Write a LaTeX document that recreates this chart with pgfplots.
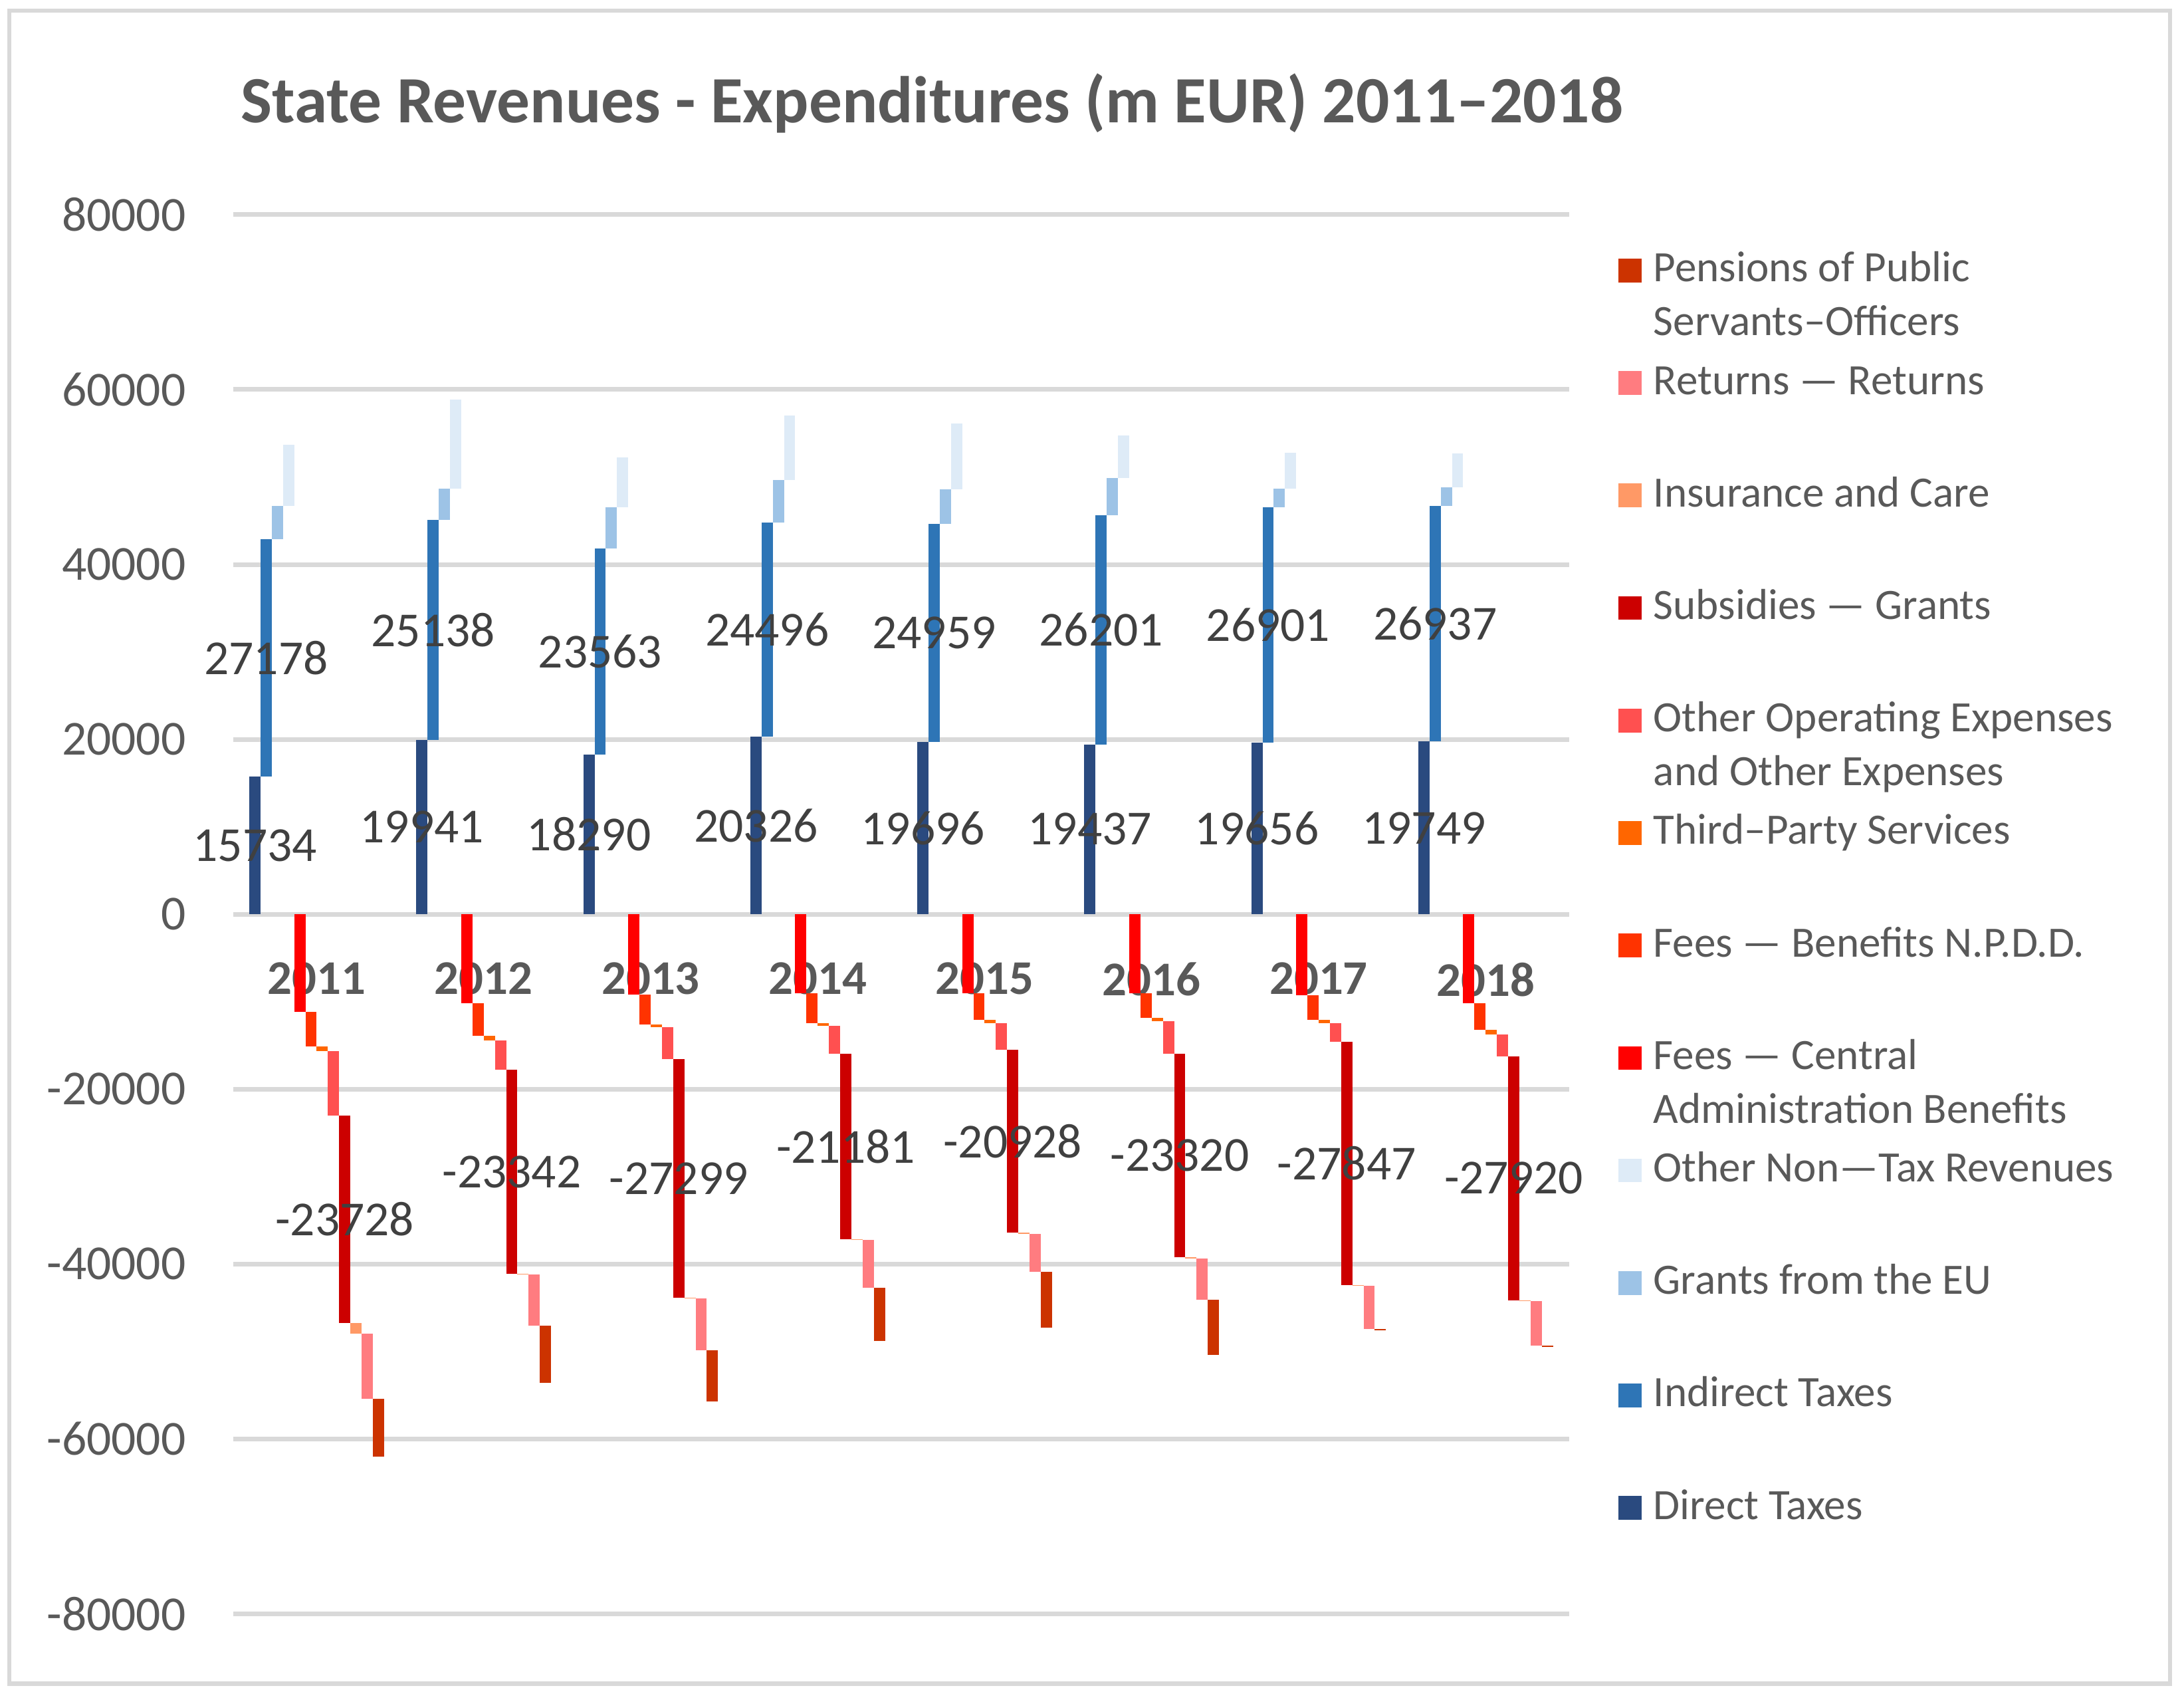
\documentclass[border=0pt]{standalone}
\usepackage{pgfplots}
\pgfplotsset{compat=1.18}
\usepackage{pgfplotstable}
\usepackage{fontspec}
\setmainfont{Carlito}
\definecolor{cDT}{HTML}{2A4A7F}
\definecolor{cIT}{HTML}{2E75B6}
\definecolor{cEU}{HTML}{9DC3E6}
\definecolor{cON}{HTML}{DEEBF7}
\definecolor{cFC}{HTML}{FF0000}
\definecolor{cFN}{HTML}{FF3300}
\definecolor{cTP}{HTML}{FF6600}
\definecolor{cOE}{HTML}{FF5050}
\definecolor{cSG}{HTML}{CC0000}
\definecolor{cIC}{HTML}{FF9966}
\definecolor{cRR}{HTML}{FF7C80}
\definecolor{cPP}{HTML}{CC3300}
\definecolor{cgrid}{HTML}{D9D9D9}
\definecolor{ctxt}{HTML}{595959}
\definecolor{clab}{HTML}{404040}

\pgfplotstableread{
x D I G O FC FN TP OE SG IC RR PP
0 15734 27178 3780 6970 11140 3970 520 7380 23728 1250 7420 6640
1 19941 25138 3620 10150 10170 3720 520 3360 23342 100 5860 6550
2 18290 23563 4690 5690 9170 3410 350 3610 27299 100 5890 5860
3 20326 24496 4810 7400 9010 3420 350 3180 21181 100 5480 6100
4 19696 24959 3970 7470 9010 3070 350 3070 20928 100 4360 6410
5 19437 26201 4220 4880 9010 2830 390 3690 23320 100 4780 6290
6 19656 26901 2140 4110 9240 2840 350 2130 27847 100 4910 150
7 19749 26937 2170 3870 10170 3030 550 2480 27920 100 5110 150
}\data

\newcommand{\bw}{2.41pt}
% #1 colour, #2 position in group, #3 base, #4 value
\newcommand{\barplot}[4]{%
\addplot[draw=none, mark=none,
  legend image code/.code={\fill[#1] (0pt,4.95pt) rectangle (5.1pt,10.05pt);},
  error bars/.cd, y dir=plus, y explicit, error mark=none,
  error bar style={draw=#1, line width=\bw, line cap=butt, solid}]
  table[x expr=\thisrow{x}+(#2-5.5)*0.0672, y expr=#3, y error expr=#4] {\data};}
\newcommand{\lgd}[1]{\begin{tabular}[t]{@{}l@{}}#1\end{tabular}}

\begin{document}
\begin{tikzpicture}
\useasboundingbox (0,0) rectangle (469.2pt,362.4pt);
\draw[cgrid, line width=0.9pt] (2pt,0.8pt) rectangle (466.2pt,360.1pt);
\node[anchor=base west, inner sep=0pt, text=ctxt, font=\fontsize{14.2}{17}\selectfont\bfseries]
  at (51.6pt,336pt) {State Revenues - Expenditures (m EUR) 2011–2018};
\begin{axis}[
  at={(50.1pt,15.8pt)}, anchor=south west, scale only axis,
  width=287.0pt, height=300.5pt,
  xmin=-0.5, xmax=7.5, ymin=-80000, ymax=80000,
  enlargelimits=false, clip=false,
  xtick={0,...,7}, xticklabels={2011,2012,2013,2014,2015,2016,2017,2018},
  ytick={-80000,-60000,...,80000},
  axis x line*=middle, axis y line*=left,
  x axis line style={draw=cgrid, line width=1pt},
  y axis line style={draw=none},
  major tick length=0pt,
  ymajorgrids, grid style={draw=cgrid, line width=1pt},
  tick label style={font=\fontsize{10.5}{12}\selectfont, text=ctxt},
  xticklabel style={font=\fontsize{10.4}{12}\selectfont\bfseries, inner sep=0pt, anchor=north, yshift=-10.2pt},
  yticklabel style={inner sep=0pt, anchor=east, xshift=-10pt},
  scaled y ticks=false,
  /pgf/number format/fixed, /pgf/number format/precision=0,
  /pgf/number format/1000 sep={}, /pgf/number format/assume math mode=true,
  reverse legend, legend cell align=left,
  legend style={at={(1.036,0.976)}, anchor=north west, draw=none, fill=none,
    inner sep=0pt, row sep=0pt, column sep=2.5pt, text=ctxt,
    font=\fontsize{9.3}{11.55}\selectfont,
    nodes={inner sep=0pt, text height=7pt, text depth=17.16pt}},
]
\barplot{cDT}{0}{0}{\thisrow{D}}
\addlegendentry{\lgd{Direct Taxes}}
\barplot{cIT}{1}{\thisrow{D}}{\thisrow{I}}
\addlegendentry{\lgd{Indirect Taxes}}
\barplot{cEU}{2}{\thisrow{D}+\thisrow{I}}{\thisrow{G}}
\addlegendentry{\lgd{Grants from the EU}}
\barplot{cON}{3}{\thisrow{D}+\thisrow{I}+\thisrow{G}}{\thisrow{O}}
\addlegendentry{\lgd{Other Non—Tax Revenues}}
\barplot{cFC}{4}{-\thisrow{FC}}{\thisrow{FC}}
\addlegendentry{\lgd{Fees — Central\\Administration Benefits}}
\barplot{cFN}{5}{-\thisrow{FC}-\thisrow{FN}}{\thisrow{FN}}
\addlegendentry{\lgd{Fees — Benefits N.P.D.D.}}
\barplot{cTP}{6}{-\thisrow{FC}-\thisrow{FN}-\thisrow{TP}}{\thisrow{TP}}
\addlegendentry{\lgd{Third–Party Services}}
\barplot{cOE}{7}{-\thisrow{FC}-\thisrow{FN}-\thisrow{TP}-\thisrow{OE}}{\thisrow{OE}}
\addlegendentry{\lgd{Other Operating Expenses\\and Other Expenses}}
\barplot{cSG}{8}{-\thisrow{FC}-\thisrow{FN}-\thisrow{TP}-\thisrow{OE}-\thisrow{SG}}{\thisrow{SG}}
\addlegendentry{\lgd{Subsidies — Grants}}
\barplot{cIC}{9}{-\thisrow{FC}-\thisrow{FN}-\thisrow{TP}-\thisrow{OE}-\thisrow{SG}-\thisrow{IC}}{\thisrow{IC}}
\addlegendentry{\lgd{Insurance and Care}}
\barplot{cRR}{10}{-\thisrow{FC}-\thisrow{FN}-\thisrow{TP}-\thisrow{OE}-\thisrow{SG}-\thisrow{IC}-\thisrow{RR}}{\thisrow{RR}}
\addlegendentry{\lgd{Returns — Returns}}
\barplot{cPP}{11}{-\thisrow{FC}-\thisrow{FN}-\thisrow{TP}-\thisrow{OE}-\thisrow{SG}-\thisrow{IC}-\thisrow{RR}-\thisrow{PP}}{\thisrow{PP}}
\addlegendentry{\lgd{Pensions of Public\\Servants–Officers}}
% data labels
\pgfplotsset{lblstyle/.style={forget plot, draw=none, mark=none, nodes near coords, point meta=explicit,
  nodes near coords style={anchor=center, inner sep=0pt, text=clab, font=\fontsize{10.5}{12}\selectfont}}}
\addplot[lblstyle] table[x expr=\thisrow{x}+(0-5.5)*0.0672, y expr=0.5*\thisrow{D}, meta expr=\thisrow{D}] {\data};
\addplot[lblstyle] table[x expr=\thisrow{x}+(1-5.5)*0.0672, y expr=\thisrow{D}+0.5*\thisrow{I}, meta expr=\thisrow{I}] {\data};
\addplot[lblstyle] table[x expr=\thisrow{x}+(8-5.5)*0.0672, y expr=-\thisrow{FC}-\thisrow{FN}-\thisrow{TP}-\thisrow{OE}-0.5*\thisrow{SG}, meta expr=-\thisrow{SG}] {\data};
\end{axis}
\end{tikzpicture}
\end{document}
